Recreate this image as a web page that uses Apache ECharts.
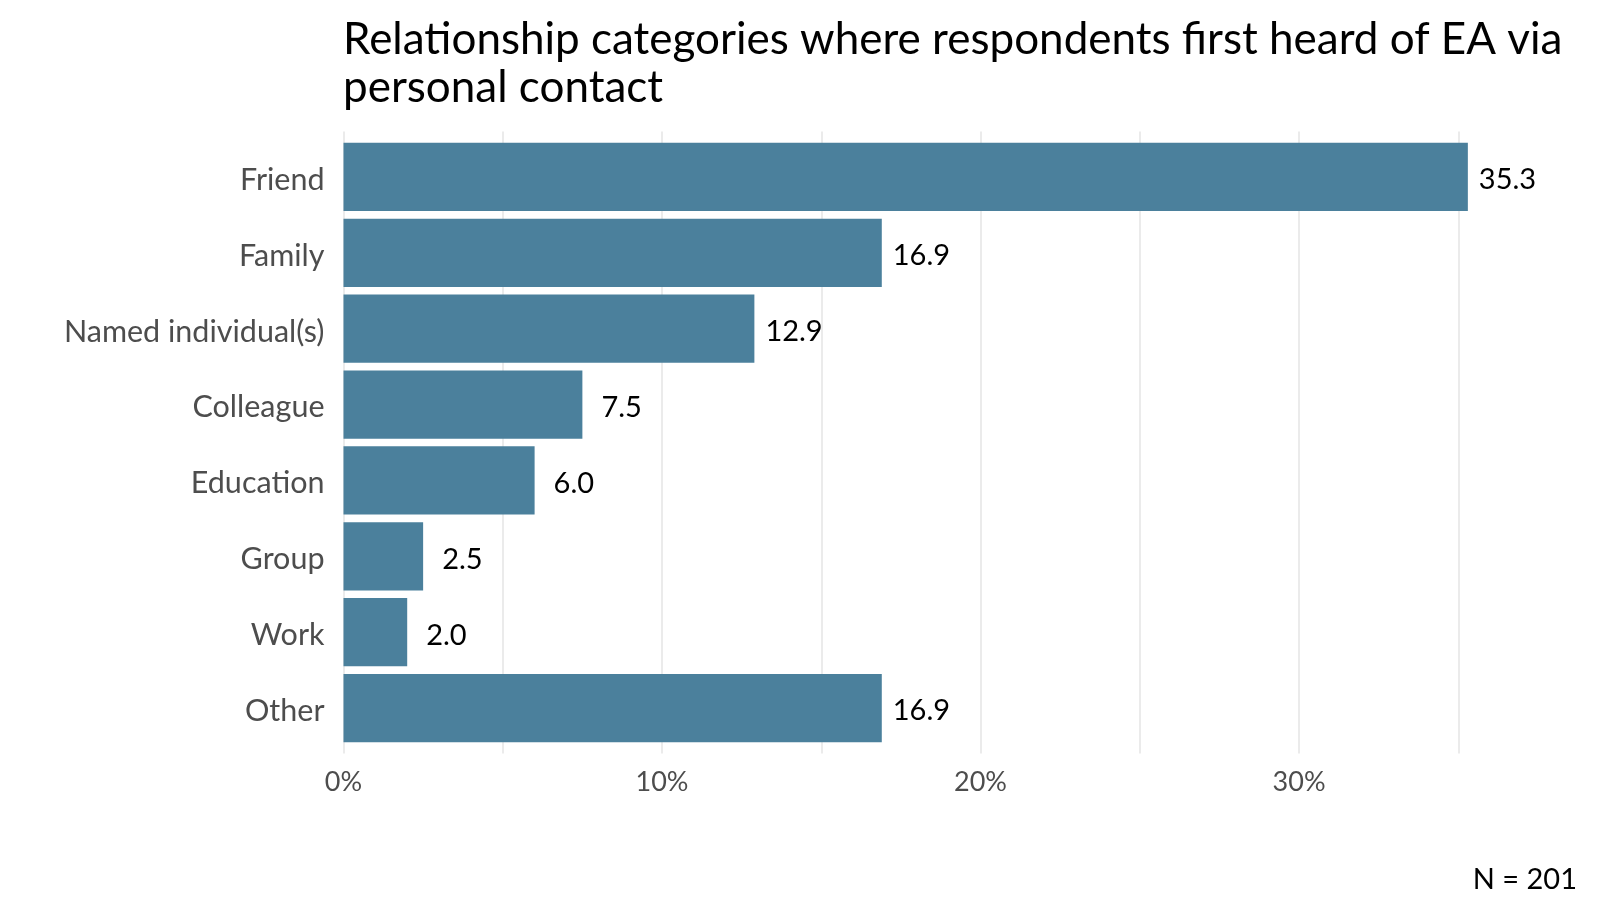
<!DOCTYPE html>
<html>
<head>
<meta charset="utf-8">
<script src="https://cdn.jsdelivr.net/npm/echarts@6/dist/echarts.min.js"></script>
<style>html,body{margin:0;padding:0;background:#fff;}#c{width:1600px;height:914px;}</style>
</head>
<body>
<div id="c"></div>
<script>
const categories = ["Friend","Family","Named individual(s)","Colleague","Education","Group","Work","Other"];
const values = [35.3,16.9,12.9,7.5,6.0,2.5,2.0,16.9];
const tickLabels = {0:"0%",10:"10%",20:"20%",30:"30%"};
const titleText = "Relationship categories where respondents first heard of EA via\npersonal contact";
const noteText = "N = 201";

const FONT = "Lato";
const chart = echarts.init(document.getElementById('c'));
chart.setOption({
  backgroundColor: '#fff',
  animation: false,
  textStyle: {fontFamily: FONT},
  title: [{
    text: titleText, left: 338, top: 11,
    textStyle: {fontFamily: FONT, fontSize: 44, fontWeight: 'normal', color: '#000', lineHeight: 48}
  },{
    text: noteText, right: 18, top: 860,
    textStyle: {fontFamily: FONT, fontSize: 29, fontWeight: 'normal', color: '#000'}
  }],
  grid: [
    {left: 343.5, right: 141.7, top: 139, height: 607},
    {left: 343.5, right: 141.7, top: 131.5, height: 622}
  ],
  xAxis: [{
    type: 'value', gridIndex: 0, min: 0, max: 35, interval: 5,
    axisLine: {show: false}, axisTick: {show: false}, splitLine: {show: false},
    axisLabel: {margin: 23, fontSize: 27, color: '#4d4d4d', fontFamily: FONT,
      formatter: v => tickLabels[v] !== undefined ? tickLabels[v] : ''}
  },{
    type: 'value', gridIndex: 1, min: 0, max: 35, interval: 5,
    axisLine: {show: false}, axisTick: {show: false}, axisLabel: {show: false},
    splitLine: {show: true, lineStyle: {color: '#ebebeb', width: 2}}
  }],
  yAxis: [{
    type: 'category', gridIndex: 0, data: categories, inverse: true,
    axisLine: {show: false}, axisTick: {show: false}, splitLine: {show: false},
    axisLabel: {margin: 19, fontSize: 30.5, color: '#4d4d4d', fontFamily: FONT,
      formatter: v => '{c|' + v + '}',
      rich: {c: {fontSize: 30.5, color: '#4d4d4d', fontFamily: FONT, padding: [6, 0, 0, 0]}}}
  },{
    type: 'value', gridIndex: 1, show: false
  }],
  series: [{
    type: 'bar', xAxisIndex: 0, yAxisIndex: 0, clip: false,
    data: values.map(v => ({value: v, label: {distance: v < 10 ? 19 : 11}})),
    barCategoryGap: '10%',
    itemStyle: {color: '#4b809c'},
    label: {show: true, position: 'right', fontSize: 29, color: '#000', fontFamily: FONT, offset: [0, 3],
      formatter: p => p.value.toFixed(1)}
  }]
});
</script>
</body>
</html>
